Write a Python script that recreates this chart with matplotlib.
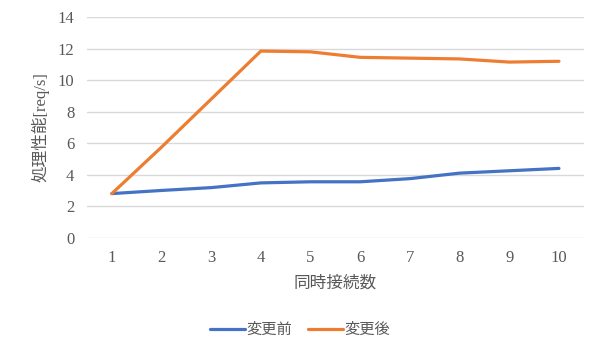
import matplotlib
matplotlib.use("Agg")
import matplotlib.pyplot as plt

# 同時接続数ごとの処理性能
connections = [1, 2, 3, 4, 5, 6, 7, 8, 9, 10]
before = [2.8, 3.0, 3.18, 3.48, 3.55, 3.55, 3.75, 4.1, 4.25, 4.4]
after = [2.8, 5.75, 8.8, 11.85, 11.8, 11.45, 11.4, 11.35, 11.15, 11.2]
series_names = ["変更前", "変更後"]

plt.rcParams['font.family'] = ['Liberation Serif', 'Noto Sans CJK JP']

fig = plt.figure(figsize=(6.0, 3.58), dpi=100)
ax = fig.add_axes([0.145, 0.336, 0.828, 0.616])

ax.plot(connections, before, color='#4472C4', lw=2.3, solid_capstyle='round', label=series_names[0])
ax.plot(connections, after, color='#ED7D31', lw=2.3, solid_capstyle='round', label=series_names[1])

ax.set_xlim(0.5, 10.5)
ax.set_ylim(0, 14)
ax.set_yticks(range(0, 15, 2))
ax.set_xticks(connections)
ax.grid(axis='y', color='#D9D9D9', lw=1)
ax.set_axisbelow(True)
for s in ax.spines.values():
    s.set_visible(False)
ax.tick_params(length=0, colors='#595959', labelsize=12)
ax.tick_params(axis='x', pad=9)
ax.tick_params(axis='y', pad=9)

ax.set_xlabel('同時接続数', color='#595959', fontsize=12, labelpad=7)
ax.set_ylabel('処理性能[req/s]', color='#595959', fontsize=12, labelpad=6)

fig.legend(loc='center', bbox_to_anchor=(0.5, 0.078), ncol=2, frameon=False,
           handlelength=2.3, handletextpad=0.1, columnspacing=1.0,
           labelcolor='#595959', fontsize=11)

fig.savefig('out.png', dpi=100)
